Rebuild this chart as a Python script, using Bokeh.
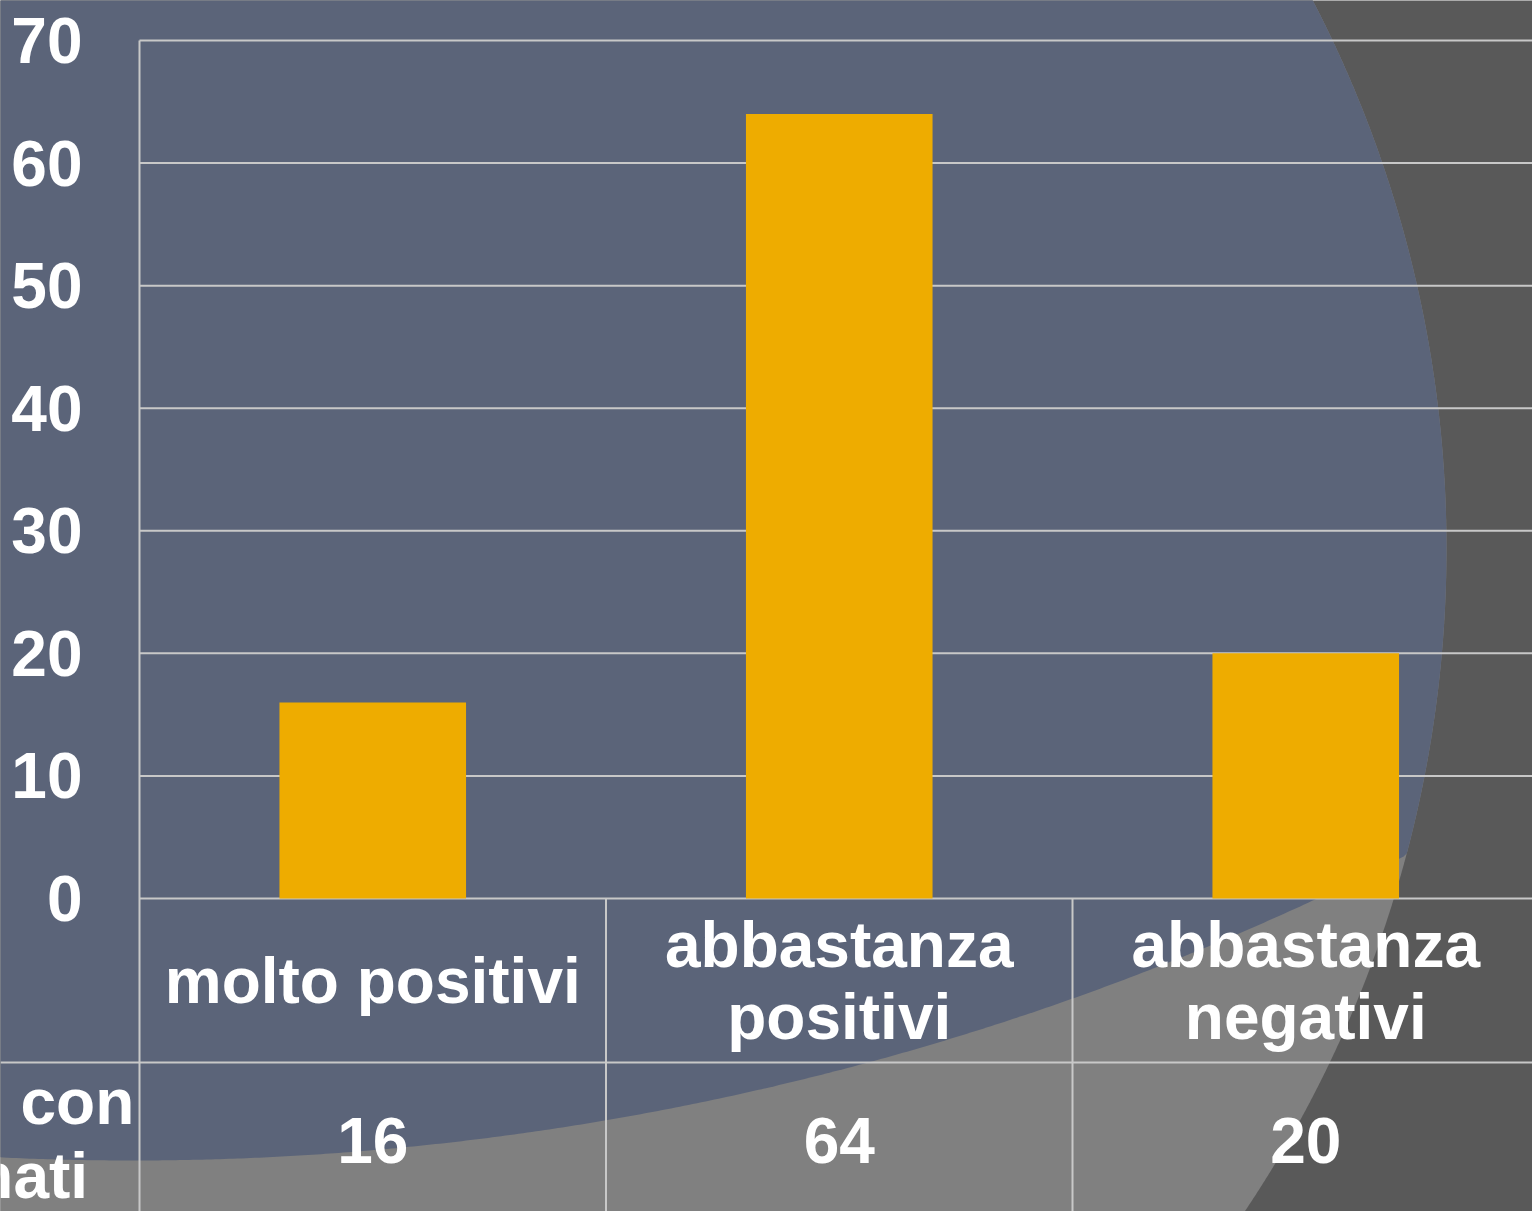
import numpy as np
from bokeh.plotting import figure
from bokeh.models import Range1d
from bokeh.core.properties import value
from bokeh.embed import file_html
from bokeh.resources import INLINE

# ---------------- data ----------------
categories = ["molto positivi", "abbastanza positivi", "abbastanza negativi"]
category_lines = [["molto positivi"], ["abbastanza", "positivi"], ["abbastanza", "negativi"]]
counts = [16, 64, 20]
y_ticks = [0, 10, 20, 30, 40, 50, 60, 70]
series_name_lines = ["Studenti con", "esaminati"]

# ---------------- style ----------------
BG_DARK = "#595959"
BG_LIGHT = "#808080"
BG_BLUE = "#5b6479"
BAR = "#eeac00"
LINE = "#c8c8c8"
FONT = "Liberation Sans"
FS = "64px"

# ---------------- layout (page pixels) ----------------
W, H = 1532, 1211
OX, OY = 0, 0
AX_X = 139.0
CAT_W = 466.5
ZERO_Y = 898.0
PX_PER_UNIT = 858.0 / 70.0


def X(px):
    return (np.asarray(px, dtype=float) - AX_X) / CAT_W


def Y(py):
    return (ZERO_Y - np.asarray(py, dtype=float)) / PX_PER_UNIT


x0, x1 = float(X(OX)), float(X(OX + W))
y0, y1 = float(Y(OY + H)), float(Y(OY))

p = figure(width=W, height=H, output_backend="svg", toolbar_location=None,
           x_range=Range1d(x0, x1), y_range=Range1d(y0, y1),
           min_border=0, min_border_left=0, min_border_right=0,
           min_border_top=0, min_border_bottom=0)
p.axis.visible = False
p.grid.visible = False
p.outline_line_color = None
p.background_fill_color = BG_DARK
p.border_fill_color = BG_DARK

# ---------------- background shapes ----------------
t = np.linspace(0, 2 * np.pi, 4000)
c1 = (256.0, 548.0, 1190.0)
c2 = (132.0, -1650.0, 2810.0)
cx1, cy1 = c1[0] + c1[2] * np.cos(t), c1[1] + c1[2] * np.sin(t)
cx2, cy2 = c2[0] + c2[2] * np.cos(t), c2[1] + c2[2] * np.sin(t)
p.patch(X(cx1), Y(cy1), fill_color=BG_LIGHT, line_color=None)
in1 = (cx2 - c1[0]) ** 2 + (cy2 - c1[1]) ** 2 <= c1[2] ** 2
in2 = (cx1 - c2[0]) ** 2 + (cy1 - c2[1]) ** 2 <= c2[2] ** 2
bx = np.concatenate([cx2[in1], cx1[in2]])
by = np.concatenate([cy2[in1], cy1[in2]])
order = np.argsort(np.arctan2(by - 500.0, bx - 700.0))
p.patch(X(bx[order]), Y(by[order]), fill_color=BG_BLUE, line_color=None)

# ---------------- grid & table lines ----------------
n = len(categories)
p.segment(x0=[0] * len(y_ticks), y0=y_ticks, x1=[x1] * len(y_ticks), y1=y_ticks,
          line_color=LINE, line_width=2)
row_line_y = float(Y(1062))
p.segment(x0=[0, x0], y0=[y0, row_line_y], x1=[0, x1], y1=[max(y_ticks), row_line_y],
          line_color=LINE, line_width=2)
p.segment(x0=list(range(1, n)), y0=[0] * (n - 1), x1=list(range(1, n)), y1=[y0] * (n - 1),
          line_color=LINE, line_width=2)

# ---------------- bars ----------------
centers = [i + 0.5 for i in range(n)]
p.vbar(x=centers, width=0.4, bottom=0, top=counts, fill_color=BAR, line_color=None)

# ---------------- texts ----------------
common = dict(text_color="white", text_font=value(FONT), text_font_style="bold",
              text_font_size=FS, text_baseline="middle")

p.text(x=[float(X(82))] * len(y_ticks), y=y_ticks, text=[str(v) for v in y_ticks],
       text_align="right", **common)

cat_x, cat_y, cat_t = [], [], []
line_gap = 72.0
for i, lines in enumerate(category_lines):
    k = len(lines)
    for j, s in enumerate(lines):
        py = 980.0 + (j - (k - 1) / 2.0) * line_gap
        cat_x.append(centers[i])
        cat_y.append(float(Y(py)))
        cat_t.append(s)
p.text(x=cat_x, y=cat_y, text=cat_t, text_align="center", **common)

p.text(x=centers, y=[float(Y(1140))] * n, text=[str(v) for v in counts],
       text_align="center", **common)

p.text(x=[float(X(-60))] * 2, y=[float(Y(1101)), float(Y(1175))], text=series_name_lines,
       text_align="center", **common)

open("out.html", "w").write(file_html(p, INLINE))
